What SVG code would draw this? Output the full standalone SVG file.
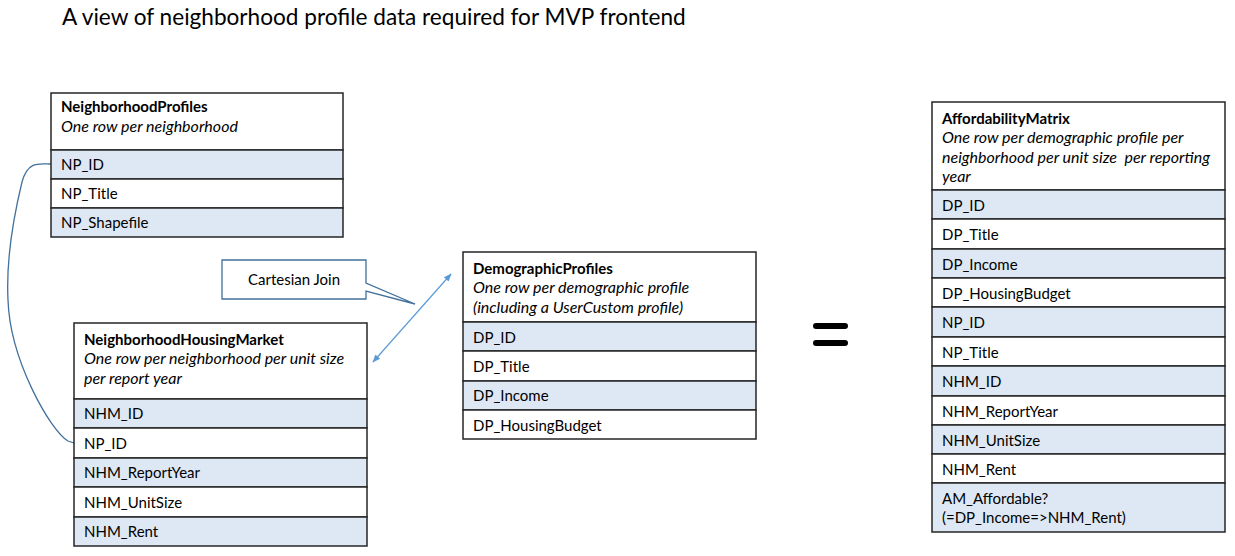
<svg xmlns="http://www.w3.org/2000/svg" width="1235" height="556" viewBox="0 0 1235 556">
<defs>
<style>
text{font-family:Lato,"Liberation Sans",sans-serif;fill:#000;font-size:15px}
.ttl{font-size:22.6px}
.b{font-weight:bold}
.i{font-style:italic;font-size:16px}
.box{fill:#fff;stroke:#262626;stroke-width:1.5}
.alt{fill:#dee8f5;stroke:#262626;stroke-width:1.5}
.wr{fill:#fff;stroke:#262626;stroke-width:1.5}
</style>
<marker id="ah" viewBox="0 0 10 10" refX="9" refY="5" markerWidth="8" markerHeight="8" orient="auto-start-reverse" markerUnits="userSpaceOnUse">
<path d="M0,1 L10,5 L0,9 Z" fill="#5b9bd5"/>
</marker>
</defs>
<rect width="1235" height="556" fill="#fff"/>
<text class="ttl" x="62" y="25">A view of neighborhood profile data required for MVP frontend</text>

<g id="connectors">
<path d="M51,164 C40,164 28,160 22,182 C14,215 6,260 8,300 C10,360 50,430 68,441 L74,443" fill="none" stroke="#41719c" stroke-width="1.3"/>
<line x1="373" y1="362" x2="451" y2="274" stroke="#5b9bd5" stroke-width="1.2" marker-start="url(#ah)" marker-end="url(#ah)"/>
</g>

<g id="callout">
<path d="M222,260 H366 V283 L415,304 L366,291 V299 H222 Z" fill="#fff" stroke="#41719c" stroke-width="1.3"/>
<text x="294" y="285" text-anchor="middle">Cartesian Join</text>
</g>

<g id="NeighborhoodProfiles">
<rect class="box" x="51" y="93" width="292" height="57"/>
<rect class="alt" x="51" y="150" width="292" height="29"/>
<rect class="wr" x="51" y="179" width="292" height="29"/>
<rect class="alt" x="51" y="208" width="292" height="29"/>
<text class="b" x="61" y="112">NeighborhoodProfiles</text>
<text class="i" x="61" y="132">One row per neighborhood</text>
<text x="61" y="170">NP_ID</text>
<text x="61" y="199">NP_Title</text>
<text x="61" y="228">NP_Shapefile</text>
</g>

<g id="NeighborhoodHousingMarket">
<rect class="box" x="74" y="323" width="293" height="76"/>
<rect class="alt" x="74" y="399" width="293" height="29"/>
<rect class="wr" x="74" y="428" width="293" height="30"/>
<rect class="alt" x="74" y="458" width="293" height="29"/>
<rect class="wr" x="74" y="487" width="293" height="30"/>
<rect class="alt" x="74" y="517" width="293" height="29"/>
<text class="b" x="84" y="345">NeighborhoodHousingMarket</text>
<text class="i" x="84" y="364">One row per neighborhood per unit size</text>
<text class="i" x="84" y="384">per report year</text>
<text x="84" y="419">NHM_ID</text>
<text x="84" y="449">NP_ID</text>
<text x="84" y="478">NHM_ReportYear</text>
<text x="84" y="508">NHM_UnitSize</text>
<text x="84" y="537">NHM_Rent</text>
</g>

<g id="DemographicProfiles">
<rect class="box" x="463" y="252" width="293" height="70"/>
<rect class="alt" x="463" y="322" width="293" height="29"/>
<rect class="wr" x="463" y="351" width="293" height="30"/>
<rect class="alt" x="463" y="381" width="293" height="29"/>
<rect class="wr" x="463" y="410" width="293" height="29"/>
<text class="b" x="473" y="274">DemographicProfiles</text>
<text class="i" x="473" y="293">One row per demographic profile</text>
<text class="i" x="473" y="313">(including a UserCustom profile)</text>
<text x="473" y="343">DP_ID</text>
<text x="473" y="372">DP_Title</text>
<text x="473" y="401">DP_Income</text>
<text x="473" y="431">DP_HousingBudget</text>
</g>

<g id="equals">
<line x1="816" y1="326" x2="845" y2="326" stroke="#000" stroke-width="6" stroke-linecap="round"/>
<line x1="816" y1="343" x2="845" y2="343" stroke="#000" stroke-width="6" stroke-linecap="round"/>
</g>

<g id="AffordabilityMatrix">
<rect class="box" x="932" y="102" width="293" height="88"/>
<rect class="alt" x="932" y="190" width="293" height="29"/>
<rect class="wr" x="932" y="219" width="293" height="30"/>
<rect class="alt" x="932" y="249" width="293" height="29"/>
<rect class="wr" x="932" y="278" width="293" height="29"/>
<rect class="alt" x="932" y="307" width="293" height="30"/>
<rect class="wr" x="932" y="337" width="293" height="29"/>
<rect class="alt" x="932" y="366" width="293" height="30"/>
<rect class="wr" x="932" y="396" width="293" height="29"/>
<rect class="alt" x="932" y="425" width="293" height="29"/>
<rect class="wr" x="932" y="454" width="293" height="29"/>
<rect class="alt" x="932" y="483" width="293" height="49"/>
<text class="b" x="942" y="124">AffordabilityMatrix</text>
<text class="i" x="942" y="143">One row per demographic profile per</text>
<text class="i" x="942" y="163" xml:space="preserve">neighborhood per unit size  per reporting</text>
<text class="i" x="942" y="182">year</text>
<text x="942" y="211">DP_ID</text>
<text x="942" y="240">DP_Title</text>
<text x="942" y="270">DP_Income</text>
<text x="942" y="299">DP_HousingBudget</text>
<text x="942" y="328">NP_ID</text>
<text x="942" y="358">NP_Title</text>
<text x="942" y="387">NHM_ID</text>
<text x="942" y="417">NHM_ReportYear</text>
<text x="942" y="446">NHM_UnitSize</text>
<text x="942" y="475">NHM_Rent</text>
<text x="942" y="504">AM_Affordable?</text>
<text x="942" y="523">(=DP_Income=&gt;NHM_Rent)</text>
</g>
</svg>
